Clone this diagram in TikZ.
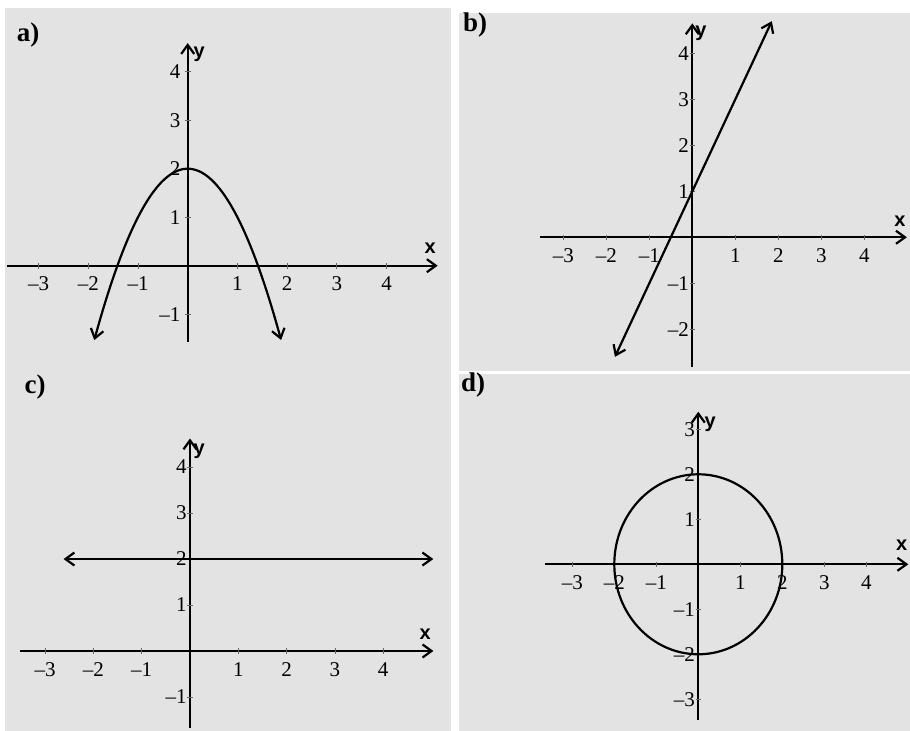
\documentclass[tikz,border=0pt]{standalone}
\usepackage{fontspec}
\setmainfont{Liberation Serif}
\setsansfont{Liberation Sans}
\usetikzlibrary{arrows.meta}

\definecolor{panelgray}{RGB}{227,227,227}
\newcommand{\ticknum}[1]{\ifnum#1<0 \textendash\number-#1\else#1\fi}

\tikzset{
    axisline/.style={->, line width=1.1pt, >={Straight Barb[length=4.5pt, width=6.5pt]}},
    graphline/.style={line width=1.1pt, >={Straight Barb[length=4.5pt, width=6.5pt]}},
    tickmark/.style={line width=0.4pt, black!60},
    xticklabel/.style={anchor=north, inner sep=0pt, yshift=-5.5pt, font=\fontsize{10.5}{11}\selectfont},
    yticklabel/.style={anchor=east, inner sep=0pt, xshift=-1.5pt, font=\fontsize{10.5}{11}\selectfont},
    varlabel/.style={inner sep=0pt, font=\sffamily\bfseries\fontsize{10}{10}\selectfont},
    panellabel/.style={inner sep=0pt, font=\bfseries\fontsize{13.5}{14}\selectfont}
}

\begin{document}
\begin{tikzpicture}[x=0.5pt, y=0.5pt]
    \useasboundingbox (0,0) rectangle (910,731);
    \fill[panelgray] (5,0) rectangle (451,723);
    \fill[panelgray] (459,360.3) rectangle (910,718);
    \fill[panelgray] (459,0) rectangle (910,357);

    \node[panellabel] (labela) at (28,696) {a)};
    \node[panellabel] (labelb) at (475,706) {b)};
    \node[panellabel] (labelc) at (35,344) {c)};
    \node[panellabel] (labeld) at (473,346) {d)};

% a) parabola
\begin{scope}[shift={(187.7,465.3)}, xscale=49.7, yscale=48.5]
    \draw[axisline] (-3.63,0) -- (5.03,0);
    \draw[axisline] (0,-1.57) -- (0,4.59);
    \node[varlabel] (xa) at (4.88,0.36) {x};
    \node[varlabel] (ya) at (0.23,4.35) {y};
    \foreach \t in {-3,-2,-1,1,2,3,4} {
        \draw[tickmark] (\t,-0.06) -- (\t,0.06);
        \node[xticklabel] (xta\t) at (\t,0) {\ticknum{\t}};
    }
    \foreach \t in {-1,1,2,3,4} {
        \draw[tickmark] (-0.06,\t) -- (0.06,\t);
        \node[yticklabel, xshift=-2pt] (yta\t) at (0,\t) {\ticknum{\t}};
    }
    \draw[graphline, <->] plot[domain=-1.88:1.88, samples=60, smooth] (\x,{2-\x*\x});
\end{scope}

% b) line
\begin{scope}[shift={(692.3,493.7)}, xscale=43, yscale=46]
    \draw[axisline] (-3.54,0) -- (4.99,0);
    \draw[axisline] (0,-2.81) -- (0,4.65);
    \node[varlabel] (xb) at (4.83,0.34) {x};
    \node[varlabel] (yb) at (0.2,4.43) {y};
    \foreach \t in {-3,-2,-1,1,2,3,4} {
        \draw[tickmark] (\t,-0.06) -- (\t,0.06);
        \node[xticklabel] (xtb\t) at (\t,0) {\ticknum{\t}};
    }
    \foreach \t in {-2,-1,1,2,3,4} {
        \draw[tickmark] (-0.06,\t) -- (0.06,\t);
        \node[yticklabel] (ytb\t) at (0,\t) {\ticknum{\t}};
    }
    \coordinate (lowb) at (-1.8,-2.6);
    \coordinate (highb) at (1.85,4.7);
    \draw[graphline, <->] (lowb) -- (highb);
\end{scope}

% c) horizontal line
\begin{scope}[shift={(190,80)}, xscale=48.3, yscale=46]
    \draw[axisline] (-3.52,0) -- (5.04,0);
    \draw[axisline] (0,-1.68) -- (0,4.62);
    \node[varlabel] (xc) at (4.87,0.36) {x};
    \node[varlabel] (yc) at (0.19,4.35) {y};
    \foreach \t in {-3,-2,-1,1,2,3,4} {
        \draw[tickmark] (\t,-0.06) -- (\t,0.06);
        \node[xticklabel] (xtc\t) at (\t,0) {\ticknum{\t}};
    }
    \foreach \t in {-1,1,2,3,4} {
        \draw[tickmark] (-0.06,\t) -- (0.06,\t);
        \node[yticklabel] (ytc\t) at (0,\t) {\ticknum{\t}};
    }
    \coordinate (leftc) at (-2.62,2);
    \coordinate (rightc) at (5.04,2);
    \draw[graphline, <->] (leftc) -- (rightc);
\end{scope}

% d) circle
\begin{scope}[shift={(698.3,166.7)}, xscale=42, yscale=45]
    \draw[axisline] (-3.65,0) -- (5.0,0);
    \draw[axisline] (0,-3.46) -- (0,3.39);
    \node[varlabel] (xd) at (4.84,0.43) {x};
    \node[varlabel] (yd) at (0.28,3.1) {y};
    \foreach \t in {-3,-2,-1,1,2,3,4} {
        \draw[tickmark] (\t,-0.06) -- (\t,0.06);
        \node[xticklabel] (xtd\t) at (\t,0) {\ticknum{\t}};
    }
    \foreach \t in {-3,-2,-1,1,2,3} {
        \draw[tickmark] (-0.06,\t) -- (0.06,\t);
        \node[yticklabel] (ytd\t) at (0,\t) {\ticknum{\t}};
    }
    \draw[graphline] (0,0) circle (2);
\end{scope}

\end{tikzpicture}
\end{document}
